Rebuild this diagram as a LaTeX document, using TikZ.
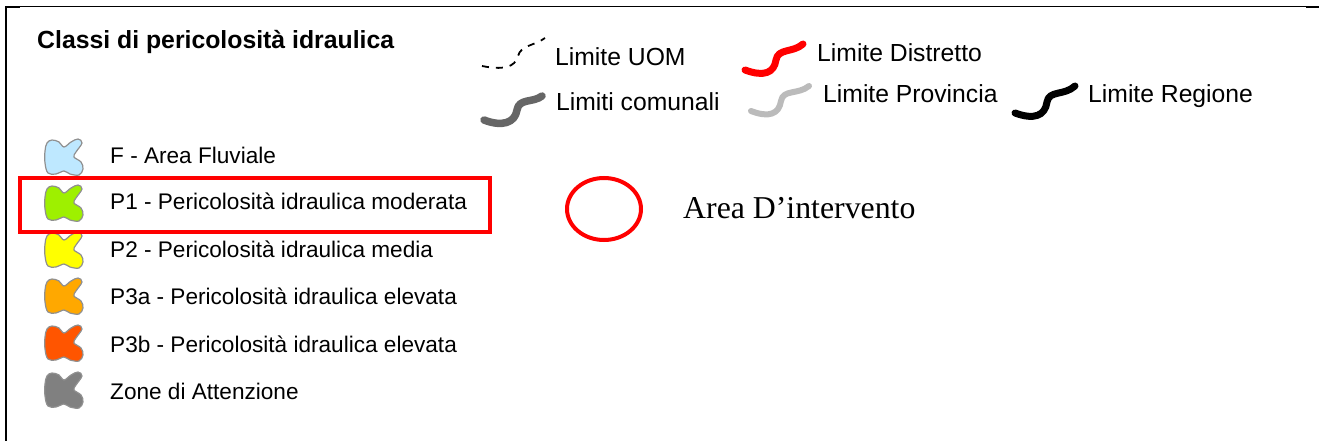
\documentclass[tikz,border=0pt]{standalone}
\usepackage{fontspec}
\usetikzlibrary{shapes.geometric}
\setmainfont{Liberation Sans}
\newfontfamily\serifface{Liberation Serif}
\definecolor{fluvial}{HTML}{BEE8FF}
\definecolor{pone}{HTML}{9EF000}
\definecolor{ptwo}{HTML}{FFFF00}
\definecolor{pthreea}{HTML}{FFA800}
\definecolor{pthreeb}{HTML}{FF5500}
\definecolor{attn}{HTML}{808080}
\definecolor{blobedge}{HTML}{909090}
\definecolor{comunali}{HTML}{666666}
\definecolor{provincia}{HTML}{BBBBBB}
\definecolor{alertred}{HTML}{FF0000}
\tikzset{
  lbl/.style={anchor=base west,inner sep=0pt,font=\fontsize{24.7}{28}\selectfont},
  item/.style={anchor=base west,inner sep=0pt,font=\fontsize{22.6}{26}\selectfont},
  wave/.style={line width=#1,line cap=round,line join=round},
  blob/.style={draw=blobedge,line width=1.2pt,fill=#1},
  frameline/.style={draw=black,line width=1.4pt},
}
% legend swatch: a lobed patch centred at the given point
\newcommand{\patch}[2]{%
  \draw[blob=#2,shift={#1}] plot[smooth cycle,tension=0.6] coordinates {
    (-12,-17) (-5,-15) (0,-10) (7,-15) (14,-18) (18,-14) (12,-5) (10,0)
    (17,5) (19,12) (15,18) (6,17) (0,14) (-8,17) (-16,16) (-19,6) (-19,-6) (-17,-14)};
}
\begin{document}
\begin{tikzpicture}[x=1pt,y=-1pt]
\useasboundingbox (0,0) rectangle (1319,441);
% page frame
\draw[frameline] (6,441) -- (6,6.5) -- (1319,6.5);
\draw[line width=2.6pt] (5,7) -- (20,7);
\draw[line width=2.6pt] (1306,7) -- (1319,7);

% title
\node[lbl,font=\fontsize{24.8}{28}\selectfont\bfseries] (title) at (37,49) {Classi di pericolosità idraulica};

% boundary line samples
\coordinate (uomA) at (482,66);
\coordinate (uomB) at (545,38);
\draw[line width=1.8pt,dash pattern=on 7pt off 7pt] (uomA) .. controls (502,70) and (515,68) .. (518,56) .. controls (521,45) and (534,46) .. (uomB);
\node[lbl] (uom) at (555,66) {Limite UOM};

\coordinate (comA) at (484,120);
\coordinate (comB) at (542,96);
\draw[wave=7.5pt,comunali] (comA) .. controls (502,127) and (515,123) .. (517,110) .. controls (519,98) and (533,103) .. (comB);
\node[lbl] (com) at (556,111) {Limiti comunali};

\coordinate (disA) at (745,70);
\coordinate (disB) at (803,44);
\draw[wave=7pt,alertred] (disA) .. controls (764,77) and (774,73) .. (776,60) .. controls (778,48) and (793,53) .. (disB);
\node[lbl] (dis) at (817,62) {Limite Distretto};

\coordinate (proA) at (751,111);
\coordinate (proB) at (809,86);
\draw[wave=6pt,provincia] (proA) .. controls (769,118) and (779,114) .. (781,101) .. controls (783,89) and (798,95) .. (proB);
\node[lbl] (pro) at (823,103) {Limite Provincia};

\coordinate (regA) at (1015,113);
\coordinate (regB) at (1075,86);
\draw[wave=7pt,black] (regA) .. controls (1034,120) and (1045,116) .. (1047,102) .. controls (1049,90) and (1064,96) .. (regB);
\node[lbl] (reg) at (1088,103) {Limite Regione};

% hazard classes
\patch{(64,157)}{fluvial}
\node[item] (cF) at (110,164) {F - Area Fluviale};
\patch{(64,203)}{pone}
\node[item] (cP1) at (110,209) {P1 - Pericolosità idraulica moderata};
\patch{(64,250)}{ptwo}
\node[item] (cP2) at (110,257) {P2 - Pericolosità idraulica media};
\patch{(64,296)}{pthreea}
\node[item] (cP3a) at (110,304) {P3a - Pericolosità idraulica elevata};
\patch{(64,343)}{pthreeb}
\node[item] (cP3b) at (110,352) {P3b - Pericolosità idraulica elevata};
\patch{(64,390)}{attn}
\node[item] (cZA) at (110,399) {Zone di Attenzione};

% highlight of the P1 entry
\node[draw=alertred,line width=4pt,minimum width=470pt,minimum height=54pt,inner sep=0pt] (hl) at (255,205) {};

% project area marker
\node[draw=alertred,line width=4pt,ellipse,minimum width=74pt,minimum height=62pt,inner sep=0pt] (area) at (604,209) {};
\node[anchor=base west,inner sep=0pt,font=\serifface\fontsize{31.8}{36}\selectfont] (areatxt) at (683,218) {Area D’intervento};
\end{tikzpicture}
\end{document}
